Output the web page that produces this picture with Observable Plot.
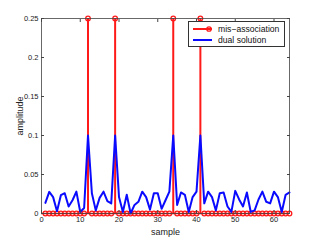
<!DOCTYPE html>
<html>
<head>
<meta charset="utf-8">
<script src="https://cdn.jsdelivr.net/npm/d3@7"></script>
<script src="https://cdn.jsdelivr.net/npm/@observablehq/plot@0.6"></script>
<style>
  html, body { margin: 0; padding: 0; background: #fff; }
  #wrap { position: relative; width: 319px; height: 240px; font-family: "Liberation Sans", Arial, sans-serif; }
  #legend { position: absolute; left: 188px; top: 21px; width: 97px; height: 26px; background: #fff; border: 1px solid #333; box-sizing: border-box; font-size: 8.6px; color: #111; }
  .row { position: absolute; left: 0; height: 11px; display: flex; align-items: center; }
  .row svg { margin-left: 3px; margin-right: 4px; }
</style>
</head>
<body>
<div id="wrap"></div>
<script>
const samples = d3.range(1, 65);
const spikeSamples = [12, 19, 34, 41];
const misAssociation = samples.map(s => spikeSamples.includes(s) ? 0.25 : 0);
const dualSolution = [
  0.0136, 0.0277, 0.021, 0.003, 0.0235, 0.026, 0.009, 0.017, 0.028, 0.002,
  0.007, 0.1, 0.026, 0.004, 0.02, 0.028, 0.016, 0.013, 0.1, 0.021,
  0.002, 0.024, 0.0, 0.011, 0.015, 0.028, 0.021, 0.005, 0.026, 0.026,
  0.006, 0.017, 0.028, 0.1, 0.011, 0.027, 0.024, 0.002, 0.021, 0.028,
  0.1, 0.013, 0.028, 0.021, 0.004, 0.026, 0.027, 0.009, 0.002, 0.029,
  0.018, 0.009, 0.027, 0.002, 0.004, 0.018, 0.028, 0.015, 0.013, 0.028,
  0.021, 0.002, 0.024, 0.027
];
const xTicks = [0, 10, 20, 30, 40, 50, 60];
const yTicks = [0, 0.05, 0.1, 0.15, 0.2, 0.25];
const seriesNames = ["mis\u2212association", "dual solution"];
const seriesColors = ["#ff1a1a", "#0a0aff"];

const red = samples.map((s, i) => ({sample: s, value: misAssociation[i]}));
const blue = samples.map((s, i) => ({sample: s, value: dualSolution[i]}));

const fmt = d => String(d);
const axisStroke = "#444";

const chart = Plot.plot({
  width: 319,
  height: 240,
  marginLeft: 41,
  marginRight: 30,
  marginTop: 18,
  marginBottom: 27,
  style: {fontFamily: "Liberation Sans, Arial, sans-serif", fontSize: "7.5px", background: "#fff", overflow: "visible"},
  x: {domain: [0, 64]},
  y: {domain: [0, 0.25]},
  marks: [
    Plot.ruleY([0], {stroke: seriesColors[0], strokeWidth: 1.5}),
    Plot.ruleX(red, {x: "sample", y1: 0, y2: "value", stroke: seriesColors[0], strokeWidth: 2}),
    Plot.dot(red, {x: "sample", y: "value", stroke: seriesColors[0], strokeWidth: 1.3, r: 2.3, fill: "none"}),
    Plot.lineY(blue, {x: "sample", y: "value", stroke: seriesColors[1], strokeWidth: 2}),
    Plot.frame({stroke: axisStroke, strokeWidth: 0.8}),
    Plot.axisX(xTicks, {anchor: "bottom", tickSize: 0, tickPadding: 3, tickFormat: fmt, fill: "#222", label: "sample", labelAnchor: "center", labelArrow: "none", labelOffset: 21}),
    Plot.axisX(xTicks, {anchor: "bottom", tickSize: -3, fill: "none", stroke: axisStroke, label: null}),
    Plot.axisX(xTicks, {anchor: "top", tickSize: -3, fill: "none", stroke: axisStroke, label: null}),
    Plot.axisY(yTicks, {anchor: "left", tickSize: 0, tickPadding: 3, tickFormat: fmt, fill: "#222", label: "amplitude", labelAnchor: "center", labelArrow: "none", labelOffset: 25}),
    Plot.axisY(yTicks, {anchor: "left", tickSize: -3, fill: "none", stroke: axisStroke, label: null}),
    Plot.axisY(yTicks, {anchor: "right", tickSize: -3, fill: "none", stroke: axisStroke, label: null})
  ]
});

const wrap = document.getElementById("wrap");
wrap.appendChild(chart);
d3.select(chart).selectAll("[aria-label$='axis label'] text").style("font-size", "9px");

const legend = document.createElement("div");
legend.id = "legend";
seriesNames.forEach((name, i) => {
  const row = document.createElement("div");
  row.className = "row";
  row.style.top = (i * 11 + 1.5) + "px";
  const marker = i === 0
    ? `<circle cx="17" cy="5" r="2.2" fill="none" stroke="${seriesColors[i]}" stroke-width="1.3"/>`
    : "";
  row.innerHTML = `<svg width="22" height="10"><line x1="1" x2="20" y1="5" y2="5" stroke="${seriesColors[i]}" stroke-width="2"/>${marker}</svg><span>${name}</span>`;
  legend.appendChild(row);
});
wrap.appendChild(legend);
</script>
</body>
</html>
